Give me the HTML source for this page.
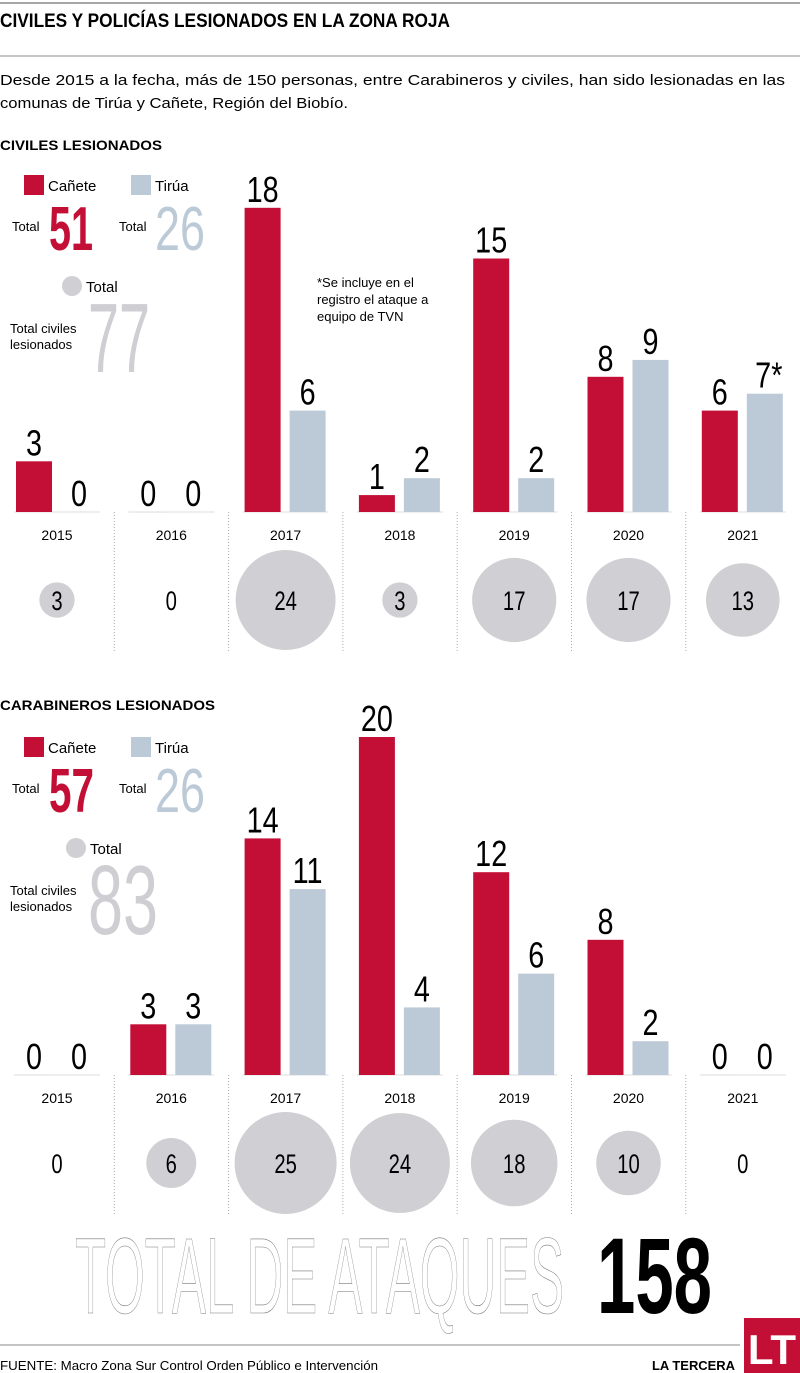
<!DOCTYPE html>
<html><head><meta charset="utf-8">
<style>
body{margin:0;background:#fff;width:800px;height:1373px;overflow:hidden;font-family:"Liberation Sans",sans-serif}
svg{display:block}
.n{font-family:"Liberation Sans Narrow","Liberation Sans",sans-serif}
</style></head>
<body>
<svg id="s" width="800" height="1373" viewBox="0 0 800 1373">
<line x1="0" y1="3" x2="800" y2="3" stroke="#888" stroke-width="1.5"/>
<text x="0" y="27" font-size="19" font-weight="bold" textLength="450" lengthAdjust="spacingAndGlyphs">CIVILES Y POLICÍAS LESIONADOS EN LA ZONA ROJA</text>
<line x1="0" y1="56" x2="800" y2="56" stroke="#888" stroke-width="1"/>
<text x="0" y="85" font-size="15" textLength="785" lengthAdjust="spacingAndGlyphs">Desde 2015 a la fecha, más de 150 personas, entre Carabineros y civiles, han sido lesionadas en las</text>
<text x="0" y="108" font-size="15" textLength="348" lengthAdjust="spacingAndGlyphs">comunas de Tirúa y Cañete, Región del Biobío.</text>

<g id="legend1">
<text x="0" y="150" font-size="14" font-weight="bold" textLength="162" lengthAdjust="spacingAndGlyphs">CIVILES LESIONADOS</text>
<rect x="24" y="175" width="20" height="20" fill="#c30f35"/>
<text x="48" y="191" font-size="15">Cañete</text>
<rect x="131" y="175" width="20" height="20" fill="#bccad7"/>
<text x="155" y="191" font-size="15">Tirúa</text>
<text x="12" y="231" font-size="13">Total</text>
<text x="49" y="250" font-size="62" font-weight="bold" fill="#c30f35" class="n" textLength="44" lengthAdjust="spacingAndGlyphs">51</text>
<text x="119" y="231" font-size="13">Total</text>
<text x="155" y="250" font-size="62" fill="#bccad7" class="n" textLength="50" lengthAdjust="spacingAndGlyphs">26</text>
<circle cx="72" cy="286" r="10" fill="#d0d0d4"/>
<text x="86" y="292" font-size="15">Total</text>
<text x="10" y="333" font-size="13">Total civiles</text>
<text x="10" y="349" font-size="13">lesionados</text>
<text x="88" y="372" font-size="98" fill="#cfcfd3" class="n" textLength="62" lengthAdjust="spacingAndGlyphs">77</text>
<text x="317" y="287" font-size="13">*Se incluye en el</text>
<text x="317" y="304" font-size="13">registro el ataque a</text>
<text x="317" y="321" font-size="13">equipo de TVN</text>
</g>

<g id="legend2">
<text x="0" y="710" font-size="14" font-weight="bold" textLength="215" lengthAdjust="spacingAndGlyphs">CARABINEROS LESIONADOS</text>
<rect x="24" y="737" width="20" height="20" fill="#c30f35"/>
<text x="48" y="753" font-size="15">Cañete</text>
<rect x="131" y="737" width="20" height="20" fill="#bccad7"/>
<text x="155" y="753" font-size="15">Tirúa</text>
<text x="12" y="793" font-size="13">Total</text>
<text x="49" y="812" font-size="62" font-weight="bold" fill="#c30f35" class="n" textLength="45" lengthAdjust="spacingAndGlyphs">57</text>
<text x="119" y="793" font-size="13">Total</text>
<text x="155" y="812" font-size="62" fill="#bccad7" class="n" textLength="50" lengthAdjust="spacingAndGlyphs">26</text>
<circle cx="76" cy="848" r="10" fill="#d0d0d4"/>
<text x="90" y="854" font-size="15">Total</text>
<text x="10" y="895" font-size="13">Total civiles</text>
<text x="10" y="911" font-size="13">lesionados</text>
<text x="88" y="934" font-size="98" fill="#cfcfd3" class="n" textLength="70" lengthAdjust="spacingAndGlyphs">83</text>
</g>

<text x="75" y="1313" font-size="108" fill="none" stroke="#777" stroke-width="0.6" class="n" textLength="489" lengthAdjust="spacingAndGlyphs">TOTAL DE ATAQUES</text>
<text x="597" y="1313" font-size="108" font-weight="bold" class="n" textLength="115" lengthAdjust="spacingAndGlyphs">158</text>
<line x1="0" y1="1345" x2="740" y2="1345" stroke="#888" stroke-width="1"/>
<text x="0" y="1370" font-size="13" class="n" textLength="378" lengthAdjust="spacingAndGlyphs">FUENTE: Macro Zona Sur Control Orden Público e Intervención</text>
<text x="652" y="1370" font-size="13" font-weight="bold" class="n" textLength="83" lengthAdjust="spacingAndGlyphs">LA TERCERA</text>
<rect x="744" y="1318" width="56" height="55" fill="#c30f35"/>
<text x="772" y="1364" font-size="42" font-weight="bold" fill="#fff" text-anchor="middle" class="n">LT</text>
</svg>
<script>
const years = ["2015","2016","2017","2018","2019","2020","2021"];
const civCanete = [3,0,18,1,15,8,6];
const civTirua = [0,0,6,2,2,9,7];
const civTotals = [3,0,24,3,17,17,13];
const civTiruaSuffix = ["","","","","","","*"];
const carCanete = [0,3,14,20,12,8,0];
const carTirua = [0,3,11,4,6,2,0];
const carTotals = [0,6,25,24,18,10,0];
const carTiruaSuffix = ["","","","","","",""];

const svg = document.getElementById('s');
const NS = 'http://www.w3.org/2000/svg';
const groupW = 114.3, unit = 16.9, maxTotal = 24, maxR = 50;
function gx(i){ return i*groupW; }
function yv(base, v){ return base - v*unit; }
function rv(v){ return maxR*Math.sqrt(v/maxTotal); }
function mk(tag, attrs){ const e=document.createElementNS(NS,tag); for(const k in attrs) e.setAttribute(k,attrs[k]); svg.appendChild(e); return e; }

function chart(prefix, base, can, tir, tot, suf){
  for(let i=0;i<years.length;i++){
    const x0 = gx(i);
    if(i>0){
      const d = mk('line',{x1:x0,y1:base,x2:x0,y2:base+140,stroke:'#aaa','stroke-width':1,'stroke-dasharray':'1,2'});
      
      
    }
    const bl = mk('line',{x1:x0+14,y1:base,x2:x0+100,y2:base,stroke:'#ddd','stroke-width':1});
    
    
    [[can[i],x0+16,'#c30f35','canete',''],[tir[i],x0+61,'#bccad7','tirua',suf[i]]].forEach(([v,x,c,nm,s])=>{
      const h = v*unit;
      const r = mk('rect',{x:x,y:yv(base,v),width:36,height:Math.max(h,0.01),fill:c});
      
      
      const cx = x+18 + (s?4:0);
      const t = mk('text',{x:cx,y:yv(base,v)-6,'font-size':36,'text-anchor':'middle','class':'n'});
      t.textContent = v + s;
      t.setAttribute('transform','translate('+(cx*0.2)+',0) scale(0.8,1)');
      
      
    });
    const yl = mk('text',{x:x0+57,y:base+28,'font-size':14,'text-anchor':'middle'});
    yl.textContent = years[i];
    
    
    const cy = base+88;
    if(tot[i]>0){
      const c = mk('circle',{cx:x0+57,cy:cy,r:rv(tot[i]),fill:'#d0d0d4'});
      
      
    }
    const tcx = x0+57;
    const tl = mk('text',{x:tcx,y:cy+10,'font-size':27,'text-anchor':'middle','class':'n'});
    tl.textContent = tot[i];
    tl.setAttribute('transform','translate('+(tcx*0.25)+',0) scale(0.75,1)');
    
    
  }
}
chart('civiles', 512, civCanete, civTirua, civTotals, civTiruaSuffix);
chart('carabineros', 1075, carCanete, carTirua, carTotals, carTiruaSuffix);
</script>
</body></html>
